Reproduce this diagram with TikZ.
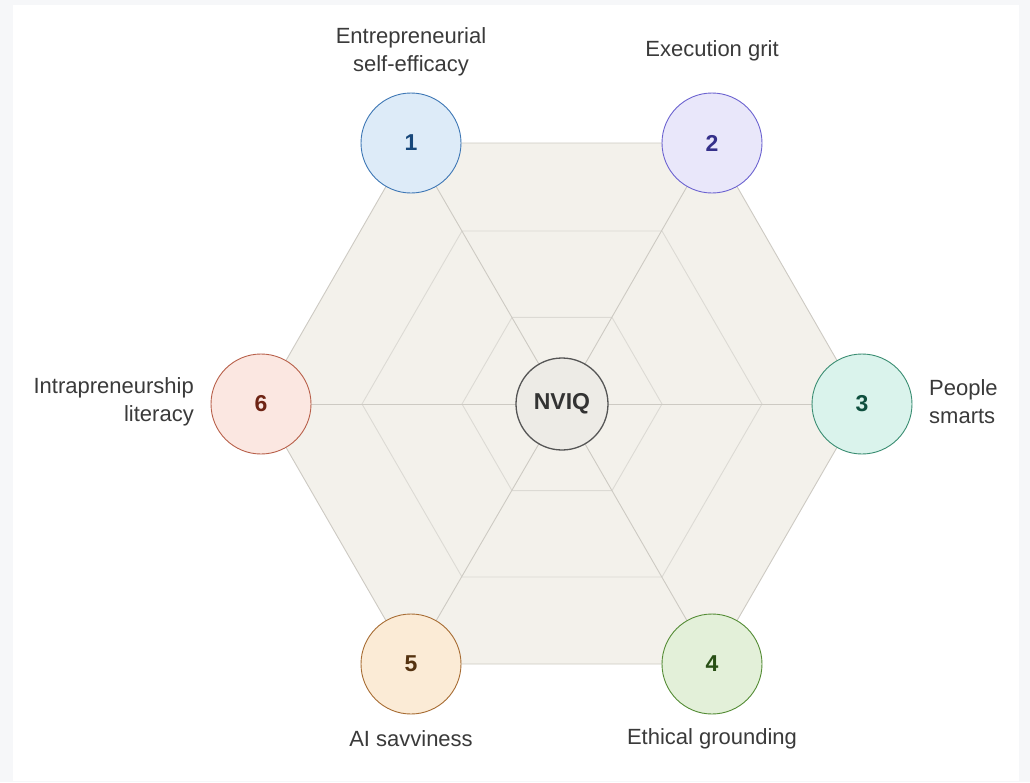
\documentclass[tikz,border=0pt]{standalone}
\usepackage{fontspec}
\setmainfont{Liberation Sans}
\definecolor{frame}{HTML}{F6F7F9}
\definecolor{hexfill}{HTML}{F3F1EB}
\definecolor{hexline}{HTML}{CDCAC3}
\definecolor{hexinner}{HTML}{DCDAD4}
\definecolor{labeltext}{HTML}{3A3A3A}
\definecolor{fa}{HTML}{DDEBF8}\definecolor{sa}{HTML}{3E77B5}\definecolor{ta}{HTML}{17477A}
\definecolor{fb}{HTML}{E9E7FA}\definecolor{sb}{HTML}{6C63D0}\definecolor{tb}{HTML}{35308A}
\definecolor{fc}{HTML}{DAF3EC}\definecolor{sc}{HTML}{3A8D72}\definecolor{tc}{HTML}{0E4F3E}
\definecolor{fd}{HTML}{E3F0D9}\definecolor{sd}{HTML}{548C35}\definecolor{td}{HTML}{284F15}
\definecolor{fe}{HTML}{FBEBD6}\definecolor{se}{HTML}{A76C33}\definecolor{te}{HTML}{553311}
\definecolor{ff}{HTML}{FBE7E1}\definecolor{sf}{HTML}{B8604A}\definecolor{tf}{HTML}{6E2414}
\definecolor{fz}{HTML}{EDEBE6}\definecolor{sz}{HTML}{555555}\definecolor{tz}{HTML}{333333}
\tikzset{
  numcirc/.style={circle, minimum size=100pt, inner sep=0pt, line width=0.9pt,
    font=\fontsize{23}{27}\selectfont\bfseries},
  spoke/.style={draw=hexline, line width=0.9pt},
  ring/.style={draw=hexinner, line width=0.9pt},
  lbl/.style={text=labeltext, font=\fontsize{22}{28}\selectfont, inner sep=0pt},
}
\begin{document}
\begin{tikzpicture}[x=1pt,y=-1pt]
\useasboundingbox (0,0) rectangle (1030,782);
\fill[frame] (0,0) rectangle (1030,782);
\fill[white] (13,5) rectangle (1019,781);
% vertex coordinates
\coordinate (c) at (562,404);
\coordinate (v1) at (411,143);
\coordinate (v2) at (712,143);
\coordinate (v3) at (862,404);
\coordinate (v4) at (712,664);
\coordinate (v5) at (411,664);
\coordinate (v6) at (261,404);
% outer hexagon
\filldraw[fill=hexfill, draw=hexline, line width=0.9pt] (v1) -- (v2) -- (v3) -- (v4) -- (v5) -- (v6) -- cycle;
% inner rings
\draw[ring] (462,231) -- (662,231) -- (762,404) -- (662,577) -- (462,577) -- (362,404) -- cycle;
\draw[ring] (512,317.4) -- (612,317.4) -- (662,404) -- (612,490.6) -- (512,490.6) -- (462,404) -- cycle;
% spokes
\foreach \v in {v1,v2,v3,v4,v5,v6} \draw[spoke] (c) -- (\v);
% nodes
\node[numcirc, fill=fz, draw=sz, text=tz, minimum size=92pt, line width=1.3pt] (nviq) at (c) {NVIQ};
\node[numcirc, fill=fa, draw=sa, text=ta] (n1) at (v1) {1};
\node[numcirc, fill=fb, draw=sb, text=tb] (n2) at (v2) {2};
\node[numcirc, fill=fc, draw=sc, text=tc] (n3) at (v3) {3};
\node[numcirc, fill=fd, draw=sd, text=td] (n4) at (v4) {4};
\node[numcirc, fill=fe, draw=se, text=te] (n5) at (v5) {5};
\node[numcirc, fill=ff, draw=sf, text=tf] (n6) at (v6) {6};
% labels
\node[lbl, align=center] (l1) at (411,52) {Entrepreneurial\\self-efficacy};
\node[lbl] (l2) at (712,51) {Execution grit};
\node[lbl, align=left, anchor=west] (l3) at (929,402) {People\\smarts};
\node[lbl] (l4) at (712,739) {Ethical grounding};
\node[lbl] (l5) at (411,739) {AI savviness};
\node[lbl, align=right, anchor=east] (l6) at (194,402) {Intrapreneurship\\literacy};
\end{tikzpicture}
\end{document}
